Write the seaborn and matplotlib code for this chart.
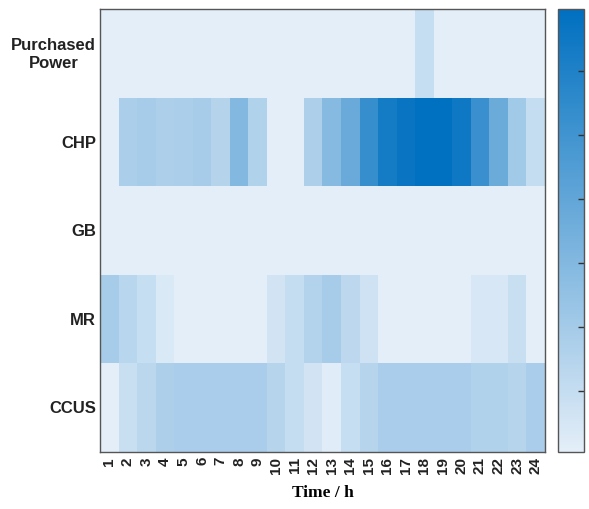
import numpy as np
import pandas as pd
import matplotlib
matplotlib.use("Agg")
import matplotlib.pyplot as plt
import seaborn as sns
from matplotlib.colors import LinearSegmentedColormap

# ─── DATA ───────────────────────────────────────────────
hours = [str(h) for h in range(1, 25)]
devices = ["Purchased\nPower", "CHP", "GB", "MR", "CCUS"]

purchased = [0, 0, 0, 0, 0, 0, 0, 0, 0, 0, 0, 0,
             0, 0, 0, 0, 0, 0.95, 0, 0, 0, 0, 0, 0]
chp = [0, 1.8, 1.9, 1.75, 1.8, 1.9, 1.5, 3.0, 1.6, 0, 0, 1.75,
       2.9, 3.8, 5.3, 6.35, 6.7, 6.97, 6.97, 6.5, 5.2, 3.7, 2.1, 1.0]
gb = [0] * 24
mr = [1.9, 1.4, 0.95, 0.35, 0, 0, 0, 0, 0, 0.6, 1.0, 1.55,
      1.9, 1.25, 0.7, 0, 0, 0, 0, 0, 0.45, 0.45, 0.9, 0]
ccus = [0.1, 0.9, 1.3, 1.75, 1.85, 1.85, 1.85, 1.85, 1.85, 1.45, 1.0, 0.6,
        0.2, 0.95, 1.45, 1.85, 1.85, 1.85, 1.85, 1.85, 1.6, 1.6, 1.45, 1.85]

df = pd.DataFrame([purchased, chp, gb, mr, ccus], index=devices, columns=hours)

# ─── STYLE ──────────────────────────────────────────────
cmap = LinearSegmentedColormap.from_list("blues_ml", ["#e4eef8", "#0070c0"])
edge = "#555555"

fig = plt.figure(figsize=(5.89, 5.10), dpi=100)
ax = fig.add_axes([0.170, 0.112, 0.755, 0.868])
cax = fig.add_axes([0.947, 0.112, 0.044, 0.868])

sns.heatmap(df, ax=ax, cbar_ax=cax, cmap=cmap, vmin=0.05, vmax=6.97,
            cbar_kws={"ticks": [1, 2, 3, 4, 5, 6]})

for side in ["top", "bottom", "left", "right"]:
    ax.spines[side].set_visible(True)
    ax.spines[side].set_color(edge)
    ax.spines[side].set_linewidth(1.0)

ax.tick_params(axis="both", length=0, pad=3)
ax.set_yticklabels(devices, rotation=0, fontsize=12, fontweight="bold",
                   family="Liberation Sans", color="#222222", ha="right",
                   multialignment="center")
ax.set_xticklabels(hours, rotation=90, fontsize=11, fontweight="bold",
                   family="Liberation Sans", color="#222222")
ax.set_xlabel("Time / h", fontsize=12.5, fontweight="bold",
              family="Liberation Serif", labelpad=8)
ax.set_ylabel("")

# colorbar: ticks inside on the right, no labels
cbar = ax.collections[0].colorbar
cbar.outline.set_edgecolor(edge)
cbar.outline.set_linewidth(1.0)
cax.yaxis.set_ticks_position("right")
cax.tick_params(axis="y", direction="in", length=4, width=1,
                color="#333333", labelright=False)

fig.savefig("out.png", dpi=100)
